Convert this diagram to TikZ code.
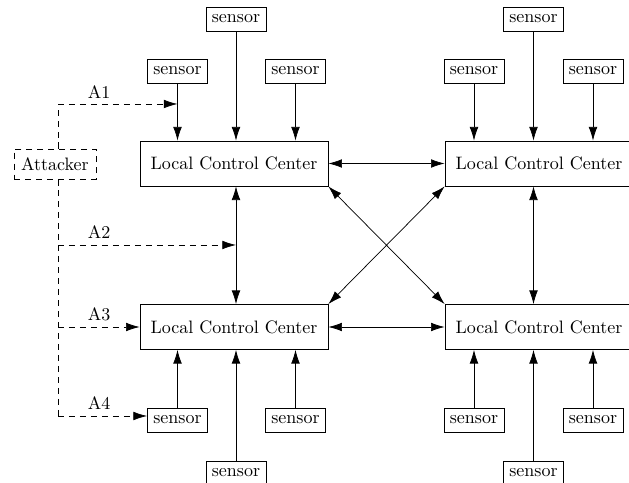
\documentclass[tikz,border=0pt]{standalone}
\usetikzlibrary{arrows.meta}
\begin{document}
\begin{tikzpicture}[x=0.5556pt,y=-0.5556pt,
  lcc/.style={draw,minimum width=104.4pt,minimum height=25pt,inner sep=0pt},
  sens/.style={draw,minimum height=13.3pt,inner xsep=3.33pt,inner ysep=0pt},
  att/.style={draw,dashed,dash pattern=on 3.4pt off 2.7pt,minimum width=45.5pt,minimum height=16.7pt,inner sep=0pt},
  arr/.style={-{Latex[length=7.6pt,width=4.8pt]}},
  darr/.style={{Latex[length=7.6pt,width=4.8pt]}-{Latex[length=7.6pt,width=4.8pt]}},
  atk/.style={dashed,dash pattern=on 3.4pt off 2.7pt},
  lbl/.style={inner sep=0pt}]
\useasboundingbox (0,0) rectangle (629,483);
% local control centers
\node[lcc] (lcc1) at (234,163.5) {Local Control Center};
\node[lcc] (lcc2) at (539,163.5) {Local Control Center};
\node[lcc] (lcc3) at (234,327) {Local Control Center};
\node[lcc] (lcc4) at (539,327) {Local Control Center};
% sensors
\node[sens] (s1a) at (177.5,71) {sensor};
\node[sens] (s1b) at (236,19) {sensor};
\node[sens] (s1c) at (295.5,71) {sensor};
\node[sens] (s2a) at (474,71) {sensor};
\node[sens] (s2b) at (533.5,19) {sensor};
\node[sens] (s2c) at (593,71) {sensor};
\node[sens] (s3a) at (177.5,420) {sensor};
\node[sens] (s3b) at (236,473) {sensor};
\node[sens] (s3c) at (295.5,420) {sensor};
\node[sens] (s4a) at (474,420) {sensor};
\node[sens] (s4b) at (533.5,473) {sensor};
\node[sens] (s4c) at (593,420) {sensor};
% attacker
\node[att] (att) at (55,164) {Attacker};
% sensor arrows
\foreach \s/\l in {s1a/lcc1,s1b/lcc1,s1c/lcc1,s2a/lcc2,s2b/lcc2,s2c/lcc2}
  \draw[arr] (\s.south) -- (\s |- \l.north);
\foreach \s/\l in {s3a/lcc3,s3b/lcc3,s3c/lcc3,s4a/lcc4,s4b/lcc4,s4c/lcc4}
  \draw[arr] (\s.north) -- (\s |- \l.south);
% LCC links
\draw[darr] (lcc1.east) -- (lcc2.west);
\draw[darr] (lcc3.east) -- (lcc4.west);
\draw[darr] (s1b |- lcc1.south) -- (s1b |- lcc3.north);
\draw[darr] (s2b |- lcc2.south) -- (s2b |- lcc4.north);
\draw[darr] (lcc1.south east) -- (lcc4.north west);
\draw[darr] (lcc2.south west) -- (lcc3.north east);
% attack paths
\coordinate (c1) at (58,104);
\coordinate (c2) at (58,245);
\coordinate (c3) at (58,327);
\coordinate (c4) at (58,416);
\draw[atk] (c1 |- att.north) -- (c1);
\draw[atk,arr] (c1) -- (s1a |- c1);
\draw[atk] (c1 |- att.south) -- (c4);
\draw[atk,arr] (c2) -- (s1b |- c2);
\draw[atk,arr] (c3) -- (lcc3.west |- c3);
\draw[atk,arr] (c4) -- (s3a.west |- c4);
\node[lbl] (l1) at (99,92) {A1};
\node[lbl] (l2) at (99,232) {A2};
\node[lbl] (l3) at (99,314) {A3};
\node[lbl] (l4) at (99,403.5) {A4};
\end{tikzpicture}
\end{document}
